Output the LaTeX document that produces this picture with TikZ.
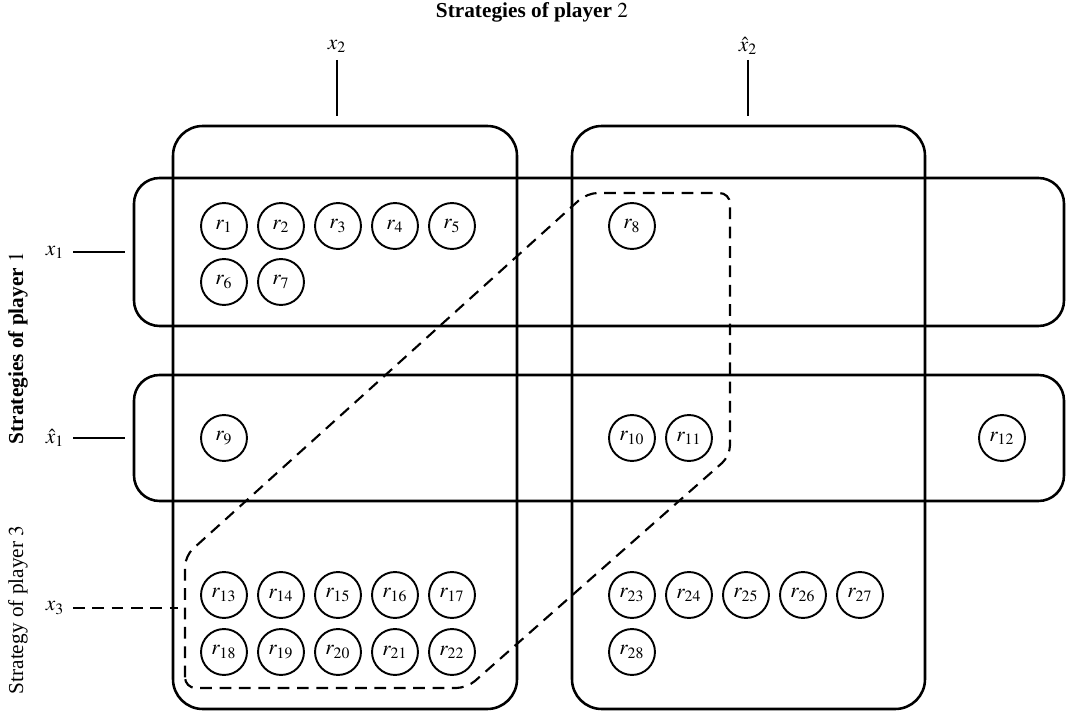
\documentclass[tikz,border=0pt]{standalone}
\usepackage{mathptmx}
\usepackage[no-math]{fontspec}
\setmainfont{Liberation Serif}
\begin{document}
\begin{tikzpicture}[x=0.47pt,y=-0.47pt,
  colbox/.style={draw, line width=1.2pt, rounded corners=14pt},
  rowbox/.style={draw, line width=1.2pt, rounded corners=12pt},
  rc/.style={draw, circle, line width=0.9pt, minimum size=21.6pt, inner sep=0pt},
  dashline/.style={line width=1pt, dash pattern=on 5.5pt off 3.6pt},
  solidline/.style={line width=1.1pt},
  lab/.style={inner sep=1pt}]
\useasboundingbox (0,0) rectangle (1066,717);
% title and rotated labels
\node[lab, font=\bfseries] (title) at (532,12) {Strategies of player $2$};
\node[lab, font=\bfseries, rotate=90] (p1) at (18,348) {Strategies of player $1$};
\node[lab, rotate=90] (p3) at (18,610) {Strategy of player $3$};
% boxes
\draw[colbox] (173,126) rectangle (517,709);
\draw[colbox] (572,126) rectangle (925,709);
\draw[rowbox] (134,178) rectangle (1064,326);
\draw[rowbox] (134,375) rectangle (1064,501);
% strategy labels
\node[lab] (x2) at (337,46) {$x_2$};
\node[lab] (hx2) at (748,46) {$\hat{x}_2$};
\node[lab] (x1) at (55,252) {$x_1$};
\node[lab] (hx1) at (55,438) {$\hat{x}_1$};
\node[lab] (x3) at (55,608) {$x_3$};
\coordinate (x2a) at (337,60);  \coordinate (x2b) at (337,116);
\coordinate (hx2a) at (748,60); \coordinate (hx2b) at (748,116);
\coordinate (x1a) at (73,252);  \coordinate (x1b) at (125,252);
\coordinate (hx1a) at (73,438); \coordinate (hx1b) at (125,438);
\coordinate (x3a) at (73,608);  \coordinate (x3b) at (178,608);
\draw[solidline] (x2a) -- (x2b);
\draw[solidline] (hx2a) -- (hx2b);
\draw[solidline] (x1a) -- (x1b);
\draw[solidline] (hx1a) -- (hx1b);
\draw[dashline] (x3a) -- (x3b);
% circles
\foreach \i/\x/\y in {1/224/226,2/281/226,3/338/226,4/395/226,5/452/226,
  6/224/282,7/281/282,8/632/226,9/224/438,10/632/438,11/689/438,12/1002/438,
  13/224/595,14/281/595,15/338/595,16/395/595,17/452/595,
  18/224/652,19/281/652,20/338/652,21/395/652,22/452/652,
  23/632/595,24/689/595,25/746/595,26/803/595,27/860/595,28/632/652}
  \node[rc] (r\i) at (\x,\y) {$r_{\i}$};
% dashed region of player 3
\draw[dashline, rounded corners=5pt] (185,688) -- (185,556) -- (587,193) -- (730,193) -- (730,456) -- (467,688) -- cycle;
\end{tikzpicture}
\end{document}
